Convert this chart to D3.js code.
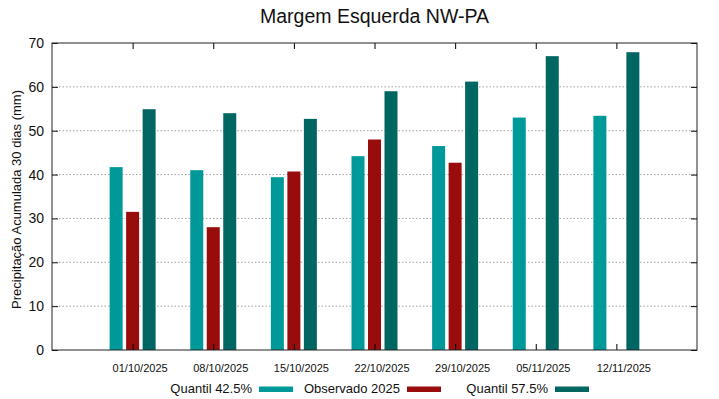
<!DOCTYPE html>
<html>
<head>
<meta charset="utf-8">
<script src="https://cdn.jsdelivr.net/npm/d3@7"></script>
<style>
  body { margin: 0; background: #fff; }
  text { font-family: "Liberation Sans", Arial, sans-serif; fill: #111; }
</style>
</head>
<body>
<div id="chart"></div>
<script>
// data
var dates = ["01/10/2025", "08/10/2025", "15/10/2025", "22/10/2025", "29/10/2025", "05/11/2025", "12/11/2025"];
var q425 = [41.7, 41.0, 39.4, 44.2, 46.5, 53.0, 53.4];
var obs2025 = [31.5, 28.0, 40.7, 48.0, 42.7, null, null];
var q575 = [54.9, 54.0, 52.7, 59.0, 61.2, 67.0, 67.9];
var yTicks = [0, 10, 20, 30, 40, 50, 60, 70];

var series = [
  {name: "Quantil 42.5%", values: q425, color: "#009999"},
  {name: "Observado 2025", values: obs2025, color: "#990c0c"},
  {name: "Quantil 57.5%", values: q575, color: "#006662"}
];

var W = 719, H = 399;
var margin = {top: 43, right: 22, bottom: 49, left: 52},
    width = W - margin.left - margin.right,
    height = H - margin.top - margin.bottom;

var svg = d3.select("#chart").append("svg")
    .attr("width", W)
    .attr("height", H);

var g = svg.append("g")
    .attr("transform", "translate(" + margin.left + "," + margin.top + ")");

// category index -> x, one empty slot on each side
var x = d3.scaleLinear().domain([-1, dates.length]).range([0, width]);
var y = d3.scaleLinear().domain([0, 70]).range([height, 0]);

var barW = 13, barStep = 16.5;

// grid
g.selectAll(".grid")
    .data(yTicks.filter(function(d) { return d > 0 && d < 70; }))
    .enter().append("line")
    .attr("x1", 0).attr("x2", width)
    .attr("y1", function(d) { return y(d); })
    .attr("y2", function(d) { return y(d); })
    .attr("stroke", "#a0a0a0")
    .attr("stroke-width", 1)
    .attr("stroke-dasharray", "1.5,2");

// bars
series.forEach(function(s, si) {
  g.selectAll(".bar" + si)
    .data(s.values.map(function(v, i) { return {v: v, i: i}; })
      .filter(function(d) { return d.v != null; }))
    .enter().append("rect")
    .attr("x", function(d) { return x(d.i) + (si - 1) * barStep - barW / 2; })
    .attr("width", barW)
    .attr("y", function(d) { return y(d.v); })
    .attr("height", function(d) { return y(0) - y(d.v); })
    .attr("fill", s.color);
});

// y axis
var yAxis = g.append("g")
    .call(d3.axisLeft(y).tickValues(yTicks).tickSize(-6).tickPadding(8));
yAxis.select(".domain").remove();
yAxis.selectAll("text").style("font-size", "14px")
    .style("font-family", "Liberation Sans, Arial, sans-serif");
yAxis.selectAll("line").attr("stroke", "#111");

// mirrored ticks on the right
g.append("g")
    .attr("transform", "translate(" + width + ",0)")
    .call(d3.axisRight(y).tickValues(yTicks).tickSize(-6).tickFormat(""))
    .select(".domain").remove();

// x axis
var xAxis = g.append("g")
    .attr("transform", "translate(0," + height + ")")
    .call(d3.axisBottom(x).tickValues(d3.range(dates.length))
      .tickFormat(function(i) { return dates[i]; }).tickSize(-6).tickPadding(14));
xAxis.select(".domain").remove();
xAxis.selectAll("text").attr("dx", 7).style("font-size", "11px")
    .style("font-family", "Liberation Sans, Arial, sans-serif");

// mirrored ticks on top
g.append("g")
    .call(d3.axisTop(x).tickValues(d3.range(dates.length)).tickSize(-6).tickFormat(""))
    .select(".domain").remove();

// frame
g.append("rect")
    .attr("width", width).attr("height", height)
    .attr("fill", "none").attr("stroke", "#222").attr("stroke-width", 1);

// title
svg.append("text")
    .attr("x", margin.left + width / 2).attr("y", 23)
    .attr("text-anchor", "middle")
    .style("font-size", "19.5px")
    .text("Margem Esquerda NW-PA");

// y title
svg.append("text")
    .attr("transform", "translate(21," + (margin.top + height / 2 + 3) + ") rotate(-90)")
    .attr("text-anchor", "middle")
    .style("font-size", "13px")
    .text("Precipitação Acumulada 30 dias (mm)");

// legend
var legX = [252, 400, 548];
series.forEach(function(s, si) {
  svg.append("text")
    .attr("x", legX[si]).attr("y", 393)
    .attr("text-anchor", "end")
    .style("font-size", "13px")
    .text(s.name);
  svg.append("rect")
    .attr("x", legX[si] + 7).attr("y", 386.5)
    .attr("width", 34).attr("height", 5.5)
    .attr("fill", s.color);
});
</script>
</body>
</html>
